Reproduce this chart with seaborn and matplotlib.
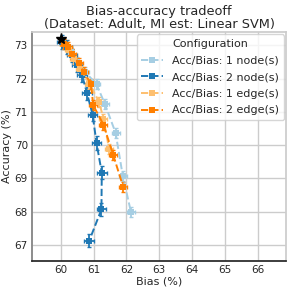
import numpy as np
import pandas as pd
import matplotlib
matplotlib.use("Agg")
import matplotlib.pyplot as plt
import seaborn as sns

labels = ["Acc/Bias: 1 node(s)", "Acc/Bias: 2 node(s)",
          "Acc/Bias: 1 edge(s)", "Acc/Bias: 2 edge(s)"]

bias_1node = [60.1, 60.3, 60.5, 60.75, 61.09, 61.34, 61.67, 61.89, 62.14]
acc_1node = [73.05, 72.8, 72.5, 72.2, 71.83, 71.25, 70.37, 69.07, 67.98]

bias_2node = [60.05, 60.2, 60.35, 60.5, 60.65, 60.8, 60.97, 61.09, 61.25, 61.24, 60.87]
acc_2node = [73.1, 72.95, 72.7, 72.4, 72.1, 71.57, 70.92, 70.07, 69.17, 68.07, 67.13]

bias_1edge = [60.1, 60.25, 60.4, 60.6, 60.87, 61.17, 61.3, 61.47]
acc_1edge = [73.05, 72.85, 72.6, 72.3, 71.85, 71.3, 70.8, 69.9]

bias_2edge = [60.1, 60.22, 60.35, 60.55, 60.7, 60.92, 60.99, 61.3, 61.6, 61.9]
acc_2edge = [73.05, 72.95, 72.75, 72.48, 72.2, 71.85, 71.2, 70.62, 69.7, 68.75]

# error bars (std), roughly equal everywhere
bias_err = [0.12, 0.15, 0.12, 0.12]
acc_err = [0.15, 0.2, 0.15, 0.15]

base_bias = 60.0
base_acc = 73.18

series = [(bias_1node, acc_1node), (bias_2node, acc_2node),
          (bias_1edge, acc_1edge), (bias_2edge, acc_2edge)]

rows = []
for lab, (b, a) in zip(labels, series):
    for bb, aa in zip(b, a):
        rows.append({"Bias": bb, "Accuracy": aa, "Configuration": lab})
df = pd.DataFrame(rows)

sns.set_theme(style="whitegrid")
plt.rcParams["font.family"] = ["DejaVu Sans"]
paired = sns.color_palette("Paired", 8)
colors = [paired[0], paired[1], paired[6], paired[7]]

fig = plt.figure(figsize=(2.91, 2.89), dpi=100)
ax = fig.add_axes([0.11, 0.097, 0.873, 0.792])

sns.lineplot(data=df, x="Bias", y="Accuracy", hue="Configuration",
             palette=colors, sort=False, estimator=None,
             marker="s", markersize=5, markeredgewidth=0,
             linewidth=1.4, ax=ax, zorder=3)
for line in ax.get_lines():
    line.set_linestyle("--")

for k, (b, a) in enumerate(series):
    ax.errorbar(b, a, xerr=bias_err[k], yerr=acc_err[k], fmt="none",
                ecolor=colors[k], elinewidth=1.3, capsize=1.5, zorder=2)

ax.plot(base_bias, base_acc, marker="*", color="black", markersize=8,
        linestyle="none", zorder=5)

ax.set_xlim(59.13, 66.85)
ax.set_ylim(66.52, 73.4)
ax.set_xticks(range(60, 67))
ax.set_yticks(range(67, 74))
ax.tick_params(labelsize=7.5, length=0, pad=3)
ax.set_xlabel("Bias (%)", fontsize=8, labelpad=1)
ax.set_ylabel("Accuracy (%)", fontsize=8, labelpad=2)
ax.set_title("Bias-accuracy tradeoff\n(Dataset: Adult, MI est: Linear SVM)",
             fontsize=9.3, pad=3, linespacing=1.0)
ax.spines["left"].set_color("0.55")
ax.spines["left"].set_linewidth(1.4)
ax.spines["bottom"].set_color("0.15")

handles, hlabels = ax.get_legend_handles_labels()
for h in handles:
    h.set_linestyle("--")
ax.legend(handles, hlabels, title="Configuration", loc="upper right",
          fontsize=8, title_fontsize=8, handlelength=2, borderaxespad=0.2,
          labelspacing=0.6, frameon=True)

fig.savefig("out.png", dpi=100)
